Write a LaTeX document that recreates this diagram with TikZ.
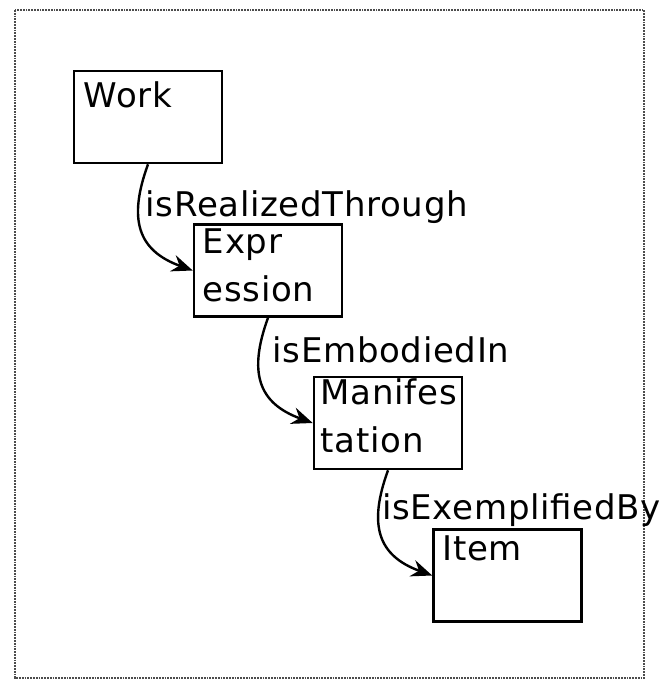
\documentclass[tikz,border=0pt]{standalone}
\usepackage{fontspec}
\setmainfont{DejaVu Sans}[LetterSpace=2]
\usetikzlibrary{arrows.meta,positioning,calc}
\tikzset{
  entity/.style={draw, line width=2.6pt, minimum width=148pt, minimum height=92pt, inner sep=0pt},
  entname/.style={anchor=north west, align=left, inner sep=0pt, font=\fontsize{34}{48}\selectfont},
  relname/.style={anchor=base west, inner sep=0pt, font=\fontsize{34}{48}\selectfont},
  rel/.style={line width=2.4pt, -{Stealth[length=21pt,width=17pt,inset=7pt]}, looseness=1.3}
}
\begin{document}
\begin{tikzpicture}[x=1pt,y=1pt]
        \useasboundingbox (0,0) rectangle (661,-681);
        \draw[densely dotted, line width=1.8pt, black!70] (15,-10) rectangle (644,-678);
        % the four entities
        \node[entity] (work) at (148,-117) {};
        \node[entity] (expr) at (268,-270.5) {};
        \node[entity] (manif) at (388,-423) {};
        \node[entity] (item) at (507.5,-575.5) {};
        \node[entname] (workt) at ($(work.north west)+(11,-12)$) {Work};
        \node[entname] (exprt) at ($(expr.north west)+(10,-5)$) {Expr\\ession};
        \node[entname] (maniftt) at ($(manif.north west)+(8,-3)$) {Manifes\\tation};
        \node[entname] (itemt) at ($(item.north west)+(10,-7)$) {Item};
        % relations
        \draw[rel] (work.south) to[out=-110,in=160] (expr.west);
        \draw[rel] (expr.south) to[out=-110,in=160] (manif.west);
        \draw[rel] (manif.south) to[out=-110,in=160] (item.west);
        \node[relname] (r1) at ($(work.south)+(-2.5,-52)$) {isRealizedThrough};
        \node[relname] (r2) at ($(expr.south)+(4.5,-45)$) {isEmbodiedIn};
        \node[relname] (r3) at ($(manif.south)+(-6,-49)$) {isExemplifiedBy};
\end{tikzpicture}
\end{document}
